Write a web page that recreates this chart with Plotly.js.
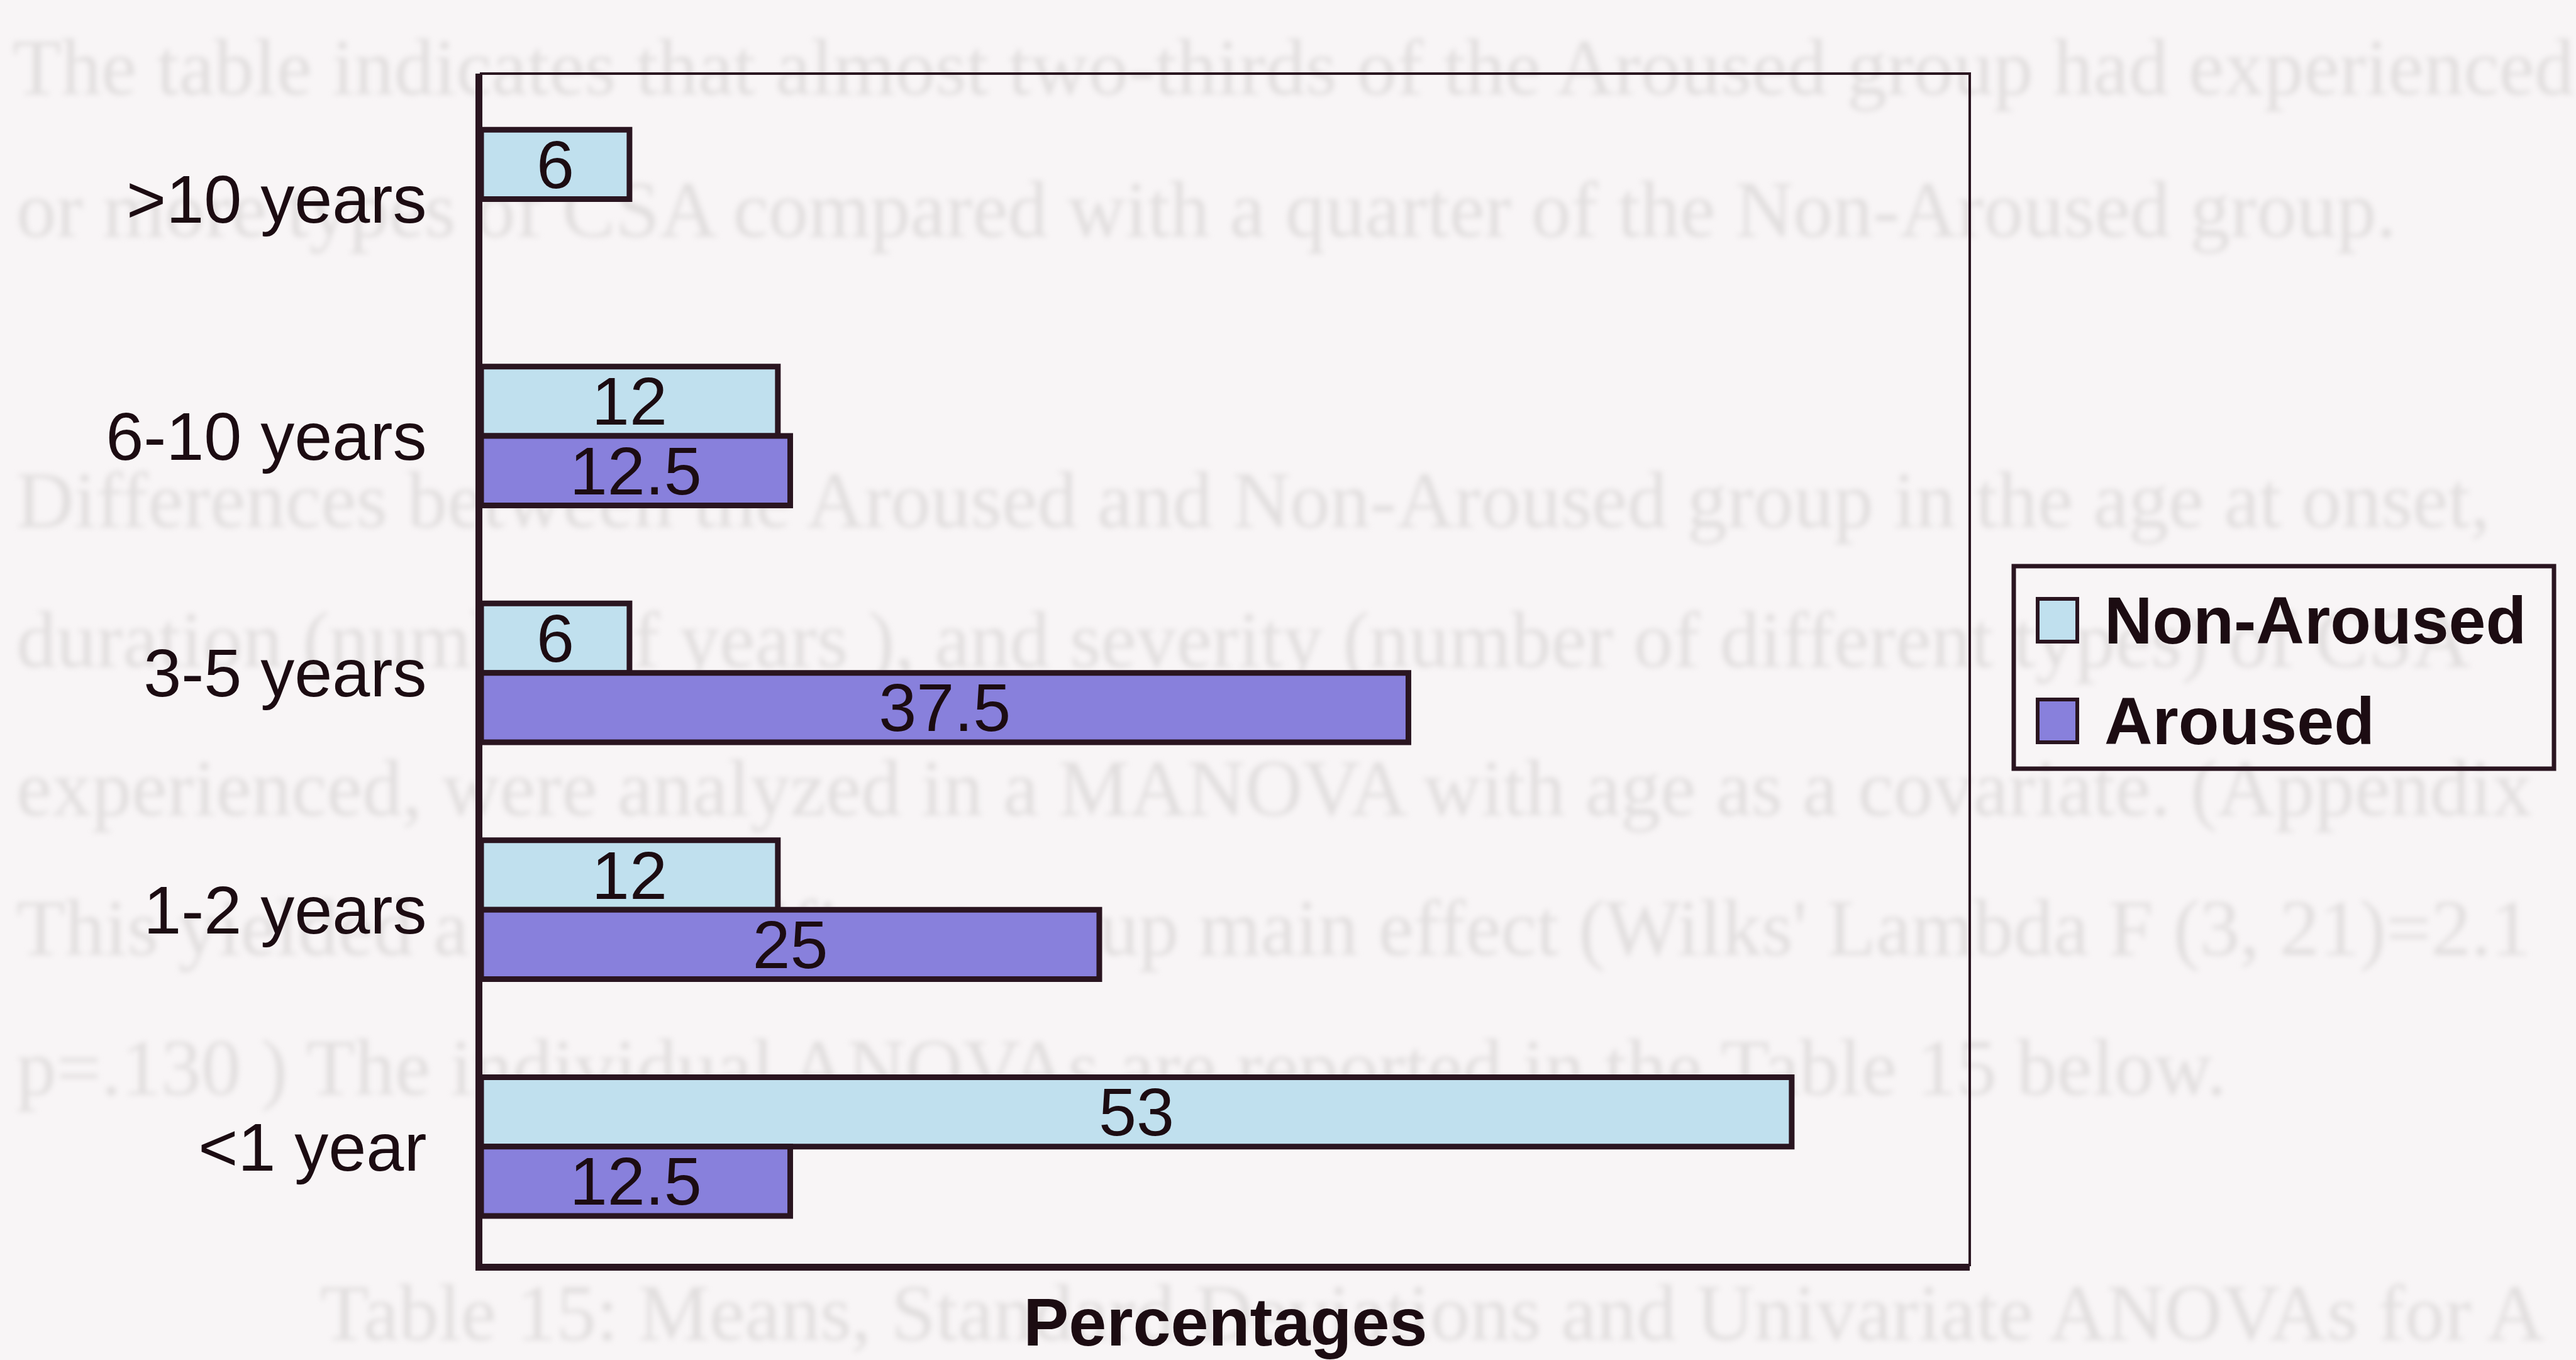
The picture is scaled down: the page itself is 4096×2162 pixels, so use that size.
<!DOCTYPE html>
<html>
<head>
<meta charset="utf-8">
<script src="https://cdn.plot.ly/plotly-3.0.1.min.js"></script>
<style>
  html, body { margin: 0; padding: 0; background: #f8f5f6; overflow: hidden; }
  #page { position: absolute; left: 0; top: 0; width: 4096px; height: 2162px; overflow: hidden; filter: blur(4px); }
  #page div { position: absolute; white-space: nowrap; line-height: 1;
              font-family: 'Liberation Serif', 'Times New Roman', serif; font-size: 127px; color: #e1dede; }
  #chart { position: absolute; left: 0; top: 0; width: 4096px; height: 2162px; }
</style>
</head>
<body>
<div id="page"></div>
<div id="chart"></div>
<script>
// Duration of abuse, percentage of each group
const categories = ['>10 years', '6-10 years', '3-5 years', '1-2 years', '<1 year'];
const nonArousedPct = [6, 12, 6, 12, 53];
const arousedPct = [null, 12.5, 37.5, 25, 12.5];
const seriesNames = ['Non-Aroused', 'Aroused'];
const seriesFills = ['#c0e0ee', '#8880dc'];
const axisTitle = 'Percentages';

// Surrounding body text of the page, faint behind the figure
const pageLines = [
  'The table indicates that almost two-thirds of the Aroused group had experienced',
  'or more types of CSA compared with a quarter of the Non-Aroused group.',
  'Differences between the Aroused and Non-Aroused group in the age at onset,',
  'duration (number of years ), and severity (number of different types) of CSA',
  'experienced, were analyzed in a MANOVA with age as a covariate. (Appendix',
  'This yielded a non-significant group main effect (Wilks\' Lambda F (3, 21)=2.1',
  'p=.130 ) The individual ANOVAs are reported in the Table 15 below.',
  'Table 15: Means, Standard Deviations and Univariate ANOVAs for A'
];
const pageBaselines = [150, 376, 838, 1060, 1296, 1518, 1740, 2130];
const pageIndents = [20, 26, 26, 26, 26, 26, 26, 509];

const page = document.getElementById('page');
pageLines.forEach((t, i) => {
  const d = document.createElement('div');
  d.textContent = t;
  d.style.left = pageIndents[i] + 'px';
  d.style.top = (pageBaselines[i] - 106) + 'px';
  page.appendChild(d);
});

const INK = '#2a1520';
const TEXT = '#1c0c12';
const SANS = 'Liberation Sans, Arial, Helvetica, sans-serif';
const W = 4096, H = 2162;
const M = { l: 765, r: 964, t: 117, b: 151 };
const PW = W - M.l - M.r, PH = H - M.t - M.b;
const px = x => (x - M.l) / PW;
const py = y => (H - M.b - y) / PH;

function barTrace(name, values, fill) {
  return {
    type: 'bar', orientation: 'h', name: name,
    x: values, y: categories,
    marker: { color: fill, line: { color: INK, width: 9 } },
    texttemplate: '%{x}', textposition: 'inside', insidetextanchor: 'middle',
    textangle: 0, constraintext: 'none',
    insidetextfont: { family: SANS, size: 108, color: TEXT },
    hoverinfo: 'skip', showlegend: false
  };
}

const traces = [
  barTrace(seriesNames[0], nonArousedPct, seriesFills[0]),
  barTrace(seriesNames[1], arousedPct, seriesFills[1])
];

// Legend drawn as a boxed key with large swatches
const legendBox = { x0: 3202, x1: 4061, y0: 900, y1: 1222 };
const legendRowY = [986, 1146];
const swatch = { x0: 3240, x1: 3303, h: 68 };
const legendTextX = 3344;

const shapes = [
  { type: 'rect', xref: 'paper', yref: 'paper', x0: 0, x1: 1, y0: 0, y1: 1,
    line: { color: INK, width: 4 }, layer: 'above' },
  { type: 'rect', xref: 'paper', yref: 'paper',
    x0: px(legendBox.x0), x1: px(legendBox.x1), y0: py(legendBox.y1), y1: py(legendBox.y0),
    line: { color: INK, width: 7 }, fillcolor: 'rgba(0,0,0,0)' }
];
const annotations = [];
seriesNames.forEach((name, i) => {
  const cy = legendRowY[i];
  shapes.push({ type: 'rect', xref: 'paper', yref: 'paper',
    x0: px(swatch.x0), x1: px(swatch.x1), y0: py(cy + swatch.h / 2), y1: py(cy - swatch.h / 2),
    line: { color: INK, width: 6 }, fillcolor: seriesFills[i] });
  annotations.push({ xref: 'paper', yref: 'paper', x: px(legendTextX), y: py(cy),
    xanchor: 'left', yanchor: 'middle', showarrow: false, text: name,
    font: { family: SANS, size: 106, color: TEXT, weight: 'bold' } });
});

const layout = {
  width: W, height: H,
  margin: M,
  paper_bgcolor: 'rgba(0,0,0,0)', plot_bgcolor: 'rgba(0,0,0,0)',
  barmode: 'group', bargap: 0.414, bargroupgap: 0,
  showlegend: false,
  xaxis: {
    range: [0, 60.2], showticklabels: false, ticks: '', showgrid: false, zeroline: false,
    showline: true, linewidth: 9, linecolor: INK, fixedrange: true,
    title: { text: axisTitle, standoff: 50,
             font: { family: SANS, size: 108, color: TEXT, weight: 'bold' } }
  },
  yaxis: {
    type: 'category', categoryorder: 'array', categoryarray: categories,
    range: [4.5, -0.53], ticks: '', showgrid: false, zeroline: false,
    showline: true, linewidth: 9, linecolor: INK, fixedrange: true,
    ticklabelstandoff: 56,
    tickfont: { family: SANS, size: 108, color: TEXT }
  },
  shapes: shapes,
  annotations: annotations
};

Plotly.newPlot('chart', traces, layout, { staticPlot: true, displayModeBar: false });
</script>
</body>
</html>
